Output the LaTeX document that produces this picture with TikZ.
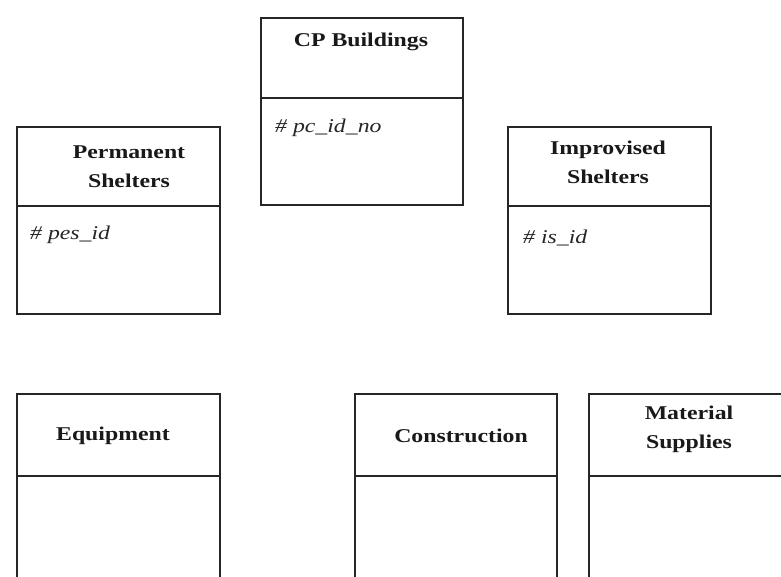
\documentclass[tikz,border=0pt]{standalone}
\usepackage{fontspec}
\setmainfont{Liberation Serif}
\newfontfamily\ttlfont{Liberation Serif}[FakeStretch=1.22]
\begin{document}
\begin{tikzpicture}[x=1pt,y=-1pt,
  part/.style={draw=black!85, line width=1.8pt, fill=white, anchor=north west, inner sep=0pt},
  ttl/.style={font=\ttlfont\fontsize{19.5}{29}\selectfont\bfseries, align=center, text=black!90, inner sep=0pt},
  attr/.style={font=\ttlfont\fontsize{19.5}{29}\selectfont\itshape, anchor=west, text=black!85, inner sep=0pt}]
\useasboundingbox (0,0) rectangle (781,576);
\clip (0,0) rectangle (781,576);
\fill[white] (0,0) rectangle (781,576);
% CP Buildings
\node[part, minimum width=202pt, minimum height=80pt] (cpH) at (260,17) {};
\node[part, minimum width=202pt, minimum height=107pt] (cpB) at (260,97) {};
\node[ttl] (cpT) at (361,42) {CP Buildings};
\node[attr] (cpA) at (275,128) {\# pc\_id\_no};
% Permanent Shelters
\node[part, minimum width=203pt, minimum height=79pt] (psH) at (16,126) {};
\node[part, minimum width=203pt, minimum height=108pt] (psB) at (16,205) {};
\node[ttl] (psT) at (129,167) {Permanent\\Shelters};
\node[attr] (psA) at (30,235) {\# pes\_id};
% Improvised Shelters
\node[part, minimum width=203pt, minimum height=79pt] (isH) at (507,126) {};
\node[part, minimum width=203pt, minimum height=108pt] (isB) at (507,205) {};
\node[ttl] (isT) at (608,162) {Improvised\\Shelters};
\node[attr] (isA) at (523,238) {\# is\_id};
% Equipment
\node[part, minimum width=203pt, minimum height=82pt] (eqH) at (16,393) {};
\node[part, minimum width=203pt, minimum height=150pt] (eqB) at (16,475) {};
\node[ttl] (eqT) at (113,436) {Equipment};
% Construction
\node[part, minimum width=202pt, minimum height=82pt] (coH) at (354,393) {};
\node[part, minimum width=202pt, minimum height=150pt] (coB) at (354,475) {};
\node[ttl] (coT) at (461,436) {Construction};
% Material Supplies
\node[part, minimum width=220pt, minimum height=82pt] (msH) at (588,393) {};
\node[part, minimum width=220pt, minimum height=150pt] (msB) at (588,475) {};
\node[ttl] (msT) at (689,429) {Material\\Supplies};
\end{tikzpicture}
\end{document}
